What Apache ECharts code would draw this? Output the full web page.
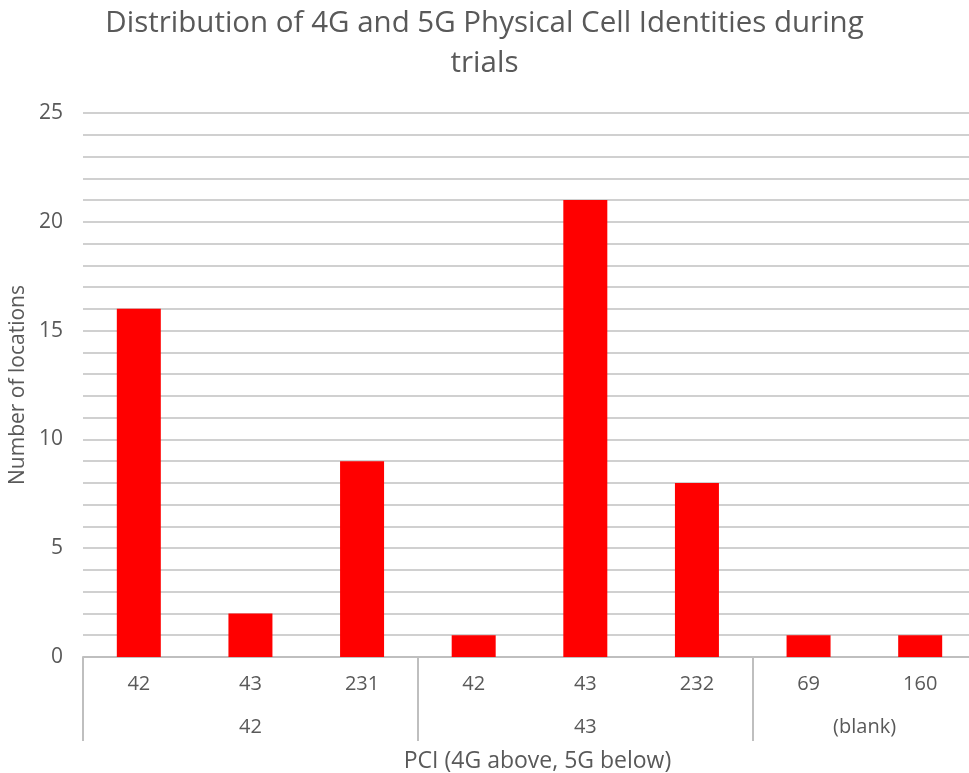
<!DOCTYPE html>
<html>
<head>
<meta charset="utf-8">
<script src="https://cdn.jsdelivr.net/npm/echarts@6/dist/echarts.min.js"></script>
<style>
  html, body { margin: 0; padding: 0; background: #fff; overflow: hidden; }
  #container_01 { width: 969px; height: 773px; }
</style>
</head>
<body>
<div id="container_01"></div>
<script>
// 5G PCI (lower row of labels), one per bar
const pci5g = ['42', '43', '231', '42', '43', '232', '69', '160'];
// 4G PCI groups (upper level of the data, shown as second row)
const pci4g = ['42', '43', '(blank)'];
const groupSize = [3, 3, 2];
// number of locations for each bar
const locations = [16, 2, 9, 1, 21, 8, 1, 1];

const yTicks = [0, 5, 10, 15, 20, 25];

// index of first bar in each group
let groupStart = [];
let n = 0;
for (let i = 0; i < groupSize.length; i++) {
    groupStart.push(n);
    n += groupSize[i];
}

var chartDom = document.getElementById('container_01');
var myChart = echarts.init(chartDom);
var textColor = '#595959';
var font = 'Open Sans';
var option;

option = {
    animation: false,
    title: {
        text: 'Distribution of 4G and 5G Physical Cell Identities during\ntrials',
        left: 'center',
        top: 0,
        padding: [4, 0, 5, 20],
        textStyle: {
            color: textColor,
            fontFamily: font,
            fontWeight: 'normal',
            fontSize: 29.5,
            lineHeight: 40
        }
    },
    grid: {
        left: 83,
        top: 113,
        width: 893,   // runs a little past the right edge of the picture
        height: 544,
        outerBoundsMode: 'none'
    },
    xAxis: [
        {
            type: 'category',
            data: pci5g,
            name: 'PCI (4G above, 5G below)',
            nameLocation: 'middle',
            nameGap: 93,
            nameTextStyle: { color: textColor, fontFamily: font, fontSize: 23, padding: [0, 0, 0, 16] },
            axisLine: { lineStyle: { color: '#bfbfbf', width: 2 } },
            axisTick: { show: false },
            axisLabel: { color: textColor, fontFamily: font, fontSize: 20, margin: 17 }
        },
        {
            type: 'category',
            data: pci5g,
            position: 'bottom',
            axisLine: { show: false },
            axisTick: {
                show: true,
                length: 84,
                interval: function (index) {
                    return groupStart.indexOf(index) >= 0;
                },
                lineStyle: { color: '#bfbfbf', width: 2 }
            },
            axisLabel: {
                color: textColor,
                fontFamily: font,
                fontSize: 20,
                margin: 60,
                interval: function (index) {
                    for (let g = 0; g < groupStart.length; g++) {
                        if (index === groupStart[g] + Math.floor((groupSize[g] - 1) / 2)) return true;
                    }
                    return false;
                },
                formatter: function (value, index) {
                    for (let g = 0; g < groupStart.length; g++) {
                        if (index === groupStart[g] + Math.floor((groupSize[g] - 1) / 2)) {
                            // even sized group: shift label by half a band
                            if (groupSize[g] % 2 === 0) return '{s|' + pci4g[g] + '}';
                            return pci4g[g];
                        }
                    }
                    return '';
                },
                rich: {
                    s: { color: textColor, fontFamily: font, fontSize: 20, padding: [0, 0, 0, 112] }
                }
            }
        }
    ],
    yAxis: {
        type: 'value',
        min: 0,
        max: 25,
        interval: 1,
        name: 'Number of locations',
        nameLocation: 'middle',
        nameGap: 50,
        nameTextStyle: { color: textColor, fontFamily: font, fontSize: 21 },
        axisLine: { show: false },
        axisTick: { show: false },
        axisLabel: {
            color: textColor,
            fontFamily: font,
            fontSize: 21,
            margin: 20,
            formatter: function (value) {
                return yTicks.indexOf(value) >= 0 ? value : '';
            }
        },
        splitLine: { lineStyle: { color: '#d0d0d0', width: 2 } }
    },
    series: [
        {
            name: 'Locations',
            type: 'bar',
            barWidth: 44,
            itemStyle: { color: '#ff0000' },
            data: locations
        }
    ]
};

option && myChart.setOption(option);
</script>
</body>
</html>
